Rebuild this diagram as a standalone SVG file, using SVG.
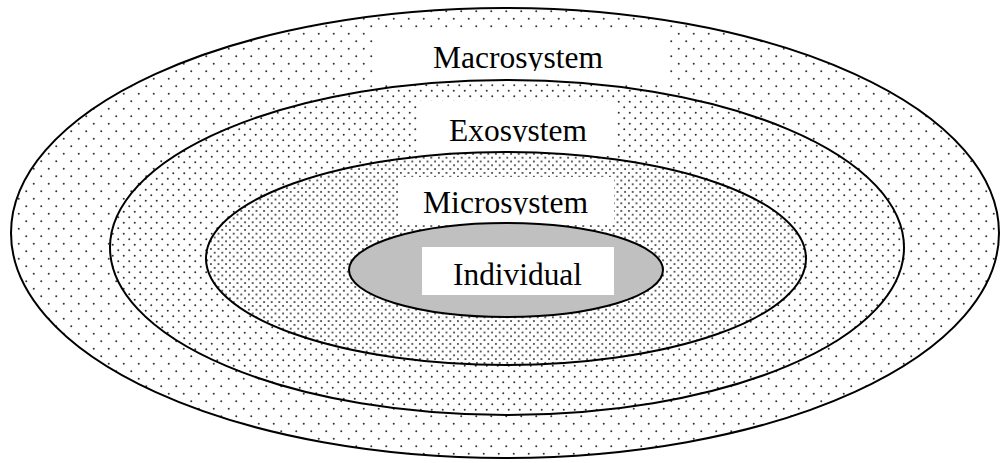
<svg xmlns="http://www.w3.org/2000/svg" width="1001" height="463" viewBox="0 0 1001 463">
<style>
.ring{stroke:#000;stroke-width:2}
.lbl{fill:#fff;stroke:none}
.dot{fill:#333}
.t{font-family:"Liberation Serif","Times New Roman",serif;font-size:31px;fill:#000}
</style>
<defs>
<pattern id="pMacro" width="15" height="15" patternUnits="userSpaceOnUse">
<rect width="15" height="15" fill="#fff"/>
<circle class="dot" cx="3.75" cy="3.75" r="1"/>
<circle class="dot" cx="11.25" cy="11.25" r="1"/>
</pattern>
<pattern id="pExo" width="11" height="11" patternUnits="userSpaceOnUse">
<rect width="11" height="11" fill="#fff"/>
<circle class="dot" cx="2.75" cy="2.75" r="1"/>
<circle class="dot" cx="8.25" cy="8.25" r="1"/>
</pattern>
<pattern id="pMicro" width="7.6" height="7.6" patternUnits="userSpaceOnUse">
<rect width="7.6" height="7.6" fill="#fff"/>
<circle class="dot" cx="1.9" cy="1.9" r="1"/>
<circle class="dot" cx="5.7" cy="5.7" r="1"/>
</pattern>
<clipPath id="cMacro"><rect x="373" y="31" width="292" height="40"/></clipPath>
<clipPath id="cExo"><rect x="419" y="101" width="198" height="41"/></clipPath>
<clipPath id="cMicro"><rect x="398" y="177" width="216" height="37.5"/></clipPath>
</defs>
<rect width="1001" height="463" fill="#fff"/>
<g id="macrosystem">
<ellipse class="ring" cx="505" cy="233" rx="494" ry="225" fill="url(#pMacro)"/>
<rect class="lbl" x="373" y="31" width="292" height="52"/>
<text class="t" x="433" y="68" textLength="170" lengthAdjust="spacingAndGlyphs" clip-path="url(#cMacro)">Macrosystem</text>
</g>
<g id="exosystem">
<ellipse class="ring" cx="507" cy="247.5" rx="397" ry="167.5" fill="url(#pExo)"/>
<rect class="lbl" x="419" y="101" width="198" height="55"/>
<text class="t" x="449" y="141" textLength="138" lengthAdjust="spacingAndGlyphs" clip-path="url(#cExo)">Exosystem</text>
</g>
<g id="microsystem">
<ellipse class="ring" cx="506" cy="258.5" rx="300" ry="106.5" fill="url(#pMicro)"/>
<rect class="lbl" x="398" y="177" width="216" height="48"/>
<text class="t" x="423" y="213" textLength="165" lengthAdjust="spacingAndGlyphs" clip-path="url(#cMicro)">Microsystem</text>
</g>
<g id="individual">
<ellipse class="ring" cx="506" cy="270" rx="157" ry="47" fill="#c0c0c0"/>
<rect class="lbl" x="422" y="247" width="192" height="48"/>
<text class="t" x="453" y="285" textLength="129" lengthAdjust="spacingAndGlyphs">Individual</text>
</g>
<g id="connectors"/>
</svg>
